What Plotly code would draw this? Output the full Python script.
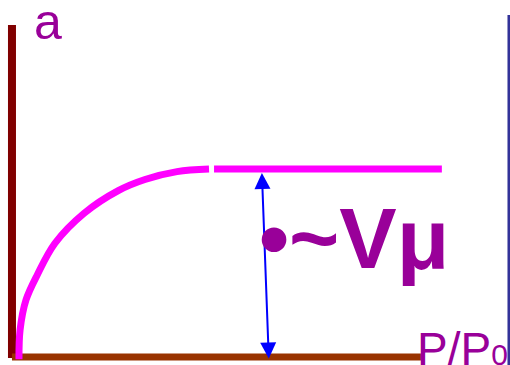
import plotly.graph_objects as go

# adsorption isotherm sketch (Langmuir-like)
# x = relative pressure P/P0 (axis end = 1), y = amount adsorbed a (plateau = 1)
pp0_curve = [0.0171, 0.0198, 0.0342, 0.0623, 0.1051, 0.1760, 0.2599, 0.3252, 0.4034, 0.4817]
a_curve = [-0.012, 0.144, 0.303, 0.439, 0.605, 0.764, 0.885, 0.944, 0.986, 1.0]

pp0_plateau = [0.494, 1.051]
a_plateau = [1.0, 1.0]

# axes drawn as lines
y_axis_x = [0.0, 0.0]
y_axis_a = [-0.005, 1.766]
x_axis_x = [0.0, 1.0]
x_axis_a = [0.0, 0.0]

# micropore volume marker (tail at bottom, head at plateau)
vmu_arrow_x = [0.628, 0.611]
vmu_arrow_a = [-0.016, 0.979]

PURPLE = '#990099'
MAGENTA = '#FF00FF'
FONT = 'Liberation Sans, Arial, sans-serif'

fig = go.Figure()

fig.add_trace(go.Scatter(x=y_axis_x, y=y_axis_a, mode='lines',
                         line=dict(color='#800000', width=8), hoverinfo='skip'))
fig.add_trace(go.Scatter(x=x_axis_x, y=x_axis_a, mode='lines',
                         line=dict(color='#993300', width=7), hoverinfo='skip'))
fig.add_trace(go.Scatter(x=pp0_curve, y=a_curve, mode='lines',
                         line=dict(color=MAGENTA, width=7, shape='spline', smoothing=1),
                         hoverinfo='skip'))
fig.add_trace(go.Scatter(x=pp0_plateau, y=a_plateau, mode='lines',
                         line=dict(color=MAGENTA, width=7), hoverinfo='skip'))

# double-headed arrow
fig.add_annotation(x=vmu_arrow_x[1], y=vmu_arrow_a[1], ax=vmu_arrow_x[0], ay=vmu_arrow_a[0],
                   xref='x', yref='y', axref='x', ayref='y', text='',
                   showarrow=True, arrowside='end+start', arrowhead=2, startarrowhead=2,
                   arrowsize=1.6, startarrowsize=1.6, arrowwidth=2, arrowcolor='#0000FF',
                   standoff=0, startstandoff=0)

fig.add_annotation(x=0.836, y=0.633, text='<b>•~Vμ</b>', showarrow=False,
                   font=dict(family=FONT, size=86, color=PURPLE),
                   xanchor='center', yanchor='middle')
fig.add_annotation(x=0.088, y=1.782, text='a', showarrow=False,
                   font=dict(family=FONT, size=50, color=PURPLE),
                   xanchor='center', yanchor='middle')
fig.add_annotation(x=0.985, y=0.043, text='P/P<span style="font-size:30px">0</span>',
                   showarrow=False, font=dict(family=FONT, size=46, color=PURPLE),
                   xanchor='left', yanchor='middle')

# right-hand frame edge
fig.add_shape(type='line', xref='paper', yref='paper', x0=0.998, x1=0.998, y0=0.959, y1=-0.03,
              line=dict(color='#333399', width=3))

fig.update_layout(
    width=510, height=365,
    margin=dict(l=0, r=0, t=0, b=0),
    paper_bgcolor='white', plot_bgcolor='white',
    showlegend=False,
    xaxis=dict(range=[-0.0293, 1.2176], visible=False, fixedrange=True),
    yaxis=dict(range=[-0.04255, 1.8989], visible=False, fixedrange=True),
)

# drop the default page margin so the 510x365 figure fills the window
fig.write_html("out.html", config={'displayModeBar': False},
               post_script="document.body.style.margin='0';"
               "document.documentElement.style.overflow='hidden';")
